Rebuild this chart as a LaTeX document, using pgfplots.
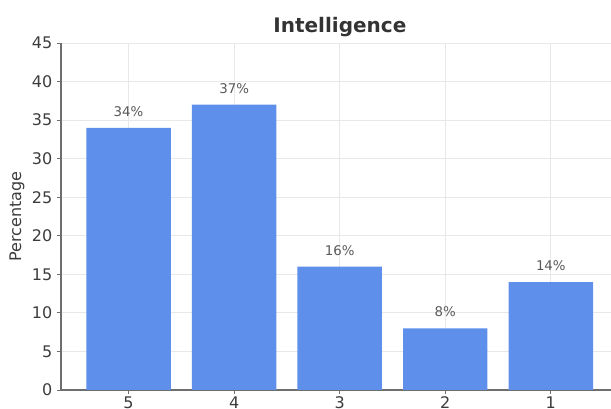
\documentclass[border=0pt]{standalone}
\usepackage{fontspec}
\setmainfont{DejaVu Sans}
\usepackage{pgfplots}
\pgfplotsset{compat=1.18}
\definecolor{barblue}{RGB}{94,143,235}
\definecolor{spine}{RGB}{110,110,110}
\definecolor{ticktext}{RGB}{60,60,60}
\begin{document}
\begin{tikzpicture}
\useasboundingbox (-45.75pt,-14.25pt) rectangle (412.5pt,292.5pt);
\begin{axis}[
  at={(0,0)}, anchor=south west,
  scale only axis,
  width=412.5pt, height=260.25pt,
  /pgf/number format/assume math mode=true,
  axis x line=bottom, axis y line=left,
  axis line style={spine, line width=0.8pt, -},
  xmin=-0.64, xmax=4.57,
  ymin=0, ymax=45,
  ytick={0,5,...,45},
  xtick={0,1,2,3,4},
  xticklabels={5,4,3,2,1},
  tick align=outside,
  major tick length=3pt,
  tick style={spine, line width=0.6pt},
  ticklabel style={font=\fontsize{12}{14}\selectfont, text=ticktext},
  xticklabel style={yshift=1.5pt},
  grid=major,
  grid style={gray!18, line width=0.6pt},
  ylabel={Percentage},
  every axis y label/.style={at={(axis description cs:0,0.5)}, xshift=-33pt, rotate=90, anchor=center, font=\fontsize{12}{14}\selectfont, text=ticktext},
  title={\textbf{Intelligence}},
  every axis title/.style={at={(axis description cs:0.507,1)}, anchor=center, yshift=12pt, font=\fontsize{15}{18}\selectfont, text=black!80},
  ybar, bar width=0.8,
  nodes near coords={\pgfmathprintnumber{\pgfplotspointmeta}\%},
  every node near coord/.append style={font=\fontsize{10}{12}\selectfont, text=black!65, yshift=5pt},
]
\addplot[fill=barblue, draw=none] coordinates {(0,34) (1,37) (2,16) (3,8) (4,14)};
\end{axis}
\end{tikzpicture}
\end{document}
